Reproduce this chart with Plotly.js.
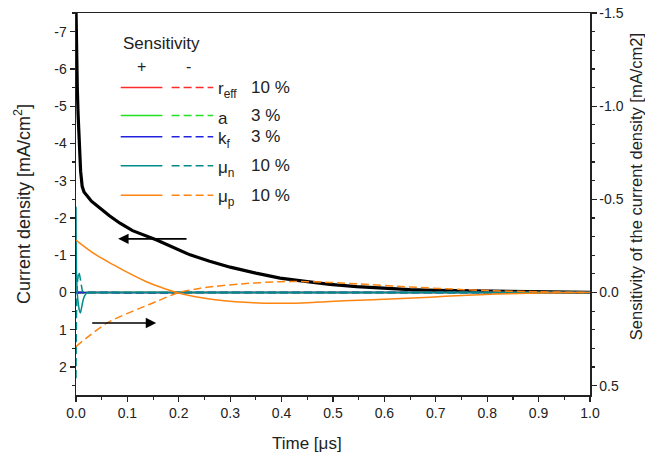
<!DOCTYPE html>
<html><head><meta charset="utf-8">
<script src="https://cdn.plot.ly/plotly-3.0.1.min.js"></script>
<style>html,body{margin:0;padding:0;background:#fff}#chart{width:645px;height:457px}</style>
</head><body><div id="chart"></div>
<script>
// ---- Current density (left axis) ----
const tJ = [0, 0.0008, 0.0025, 0.004, 0.006, 0.009, 0.012, 0.0156, 0.02, 0.03, 0.047, 0.065, 0.0856, 0.11, 0.157, 0.19, 0.222, 0.26, 0.30, 0.35, 0.397, 0.45, 0.494, 0.546, 0.59, 0.65, 0.70, 0.786, 0.85, 0.9, 1.0];
const J  = [-7.6, -6.5, -5.5, -4.8, -4.15, -3.25, -2.85, -2.7, -2.62, -2.45, -2.26, -2.06, -1.86, -1.66, -1.41, -1.21, -1.01, -0.84, -0.68, -0.52, -0.385, -0.29, -0.22, -0.16, -0.12, -0.08, -0.06, -0.04, -0.025, -0.015, -0.005];

// ---- Sensitivities (right axis) ----
const tSmall = [0, 0.005, 0.01, 0.02, 0.5, 1.0];
const reffPlus  = [0.004, 0.002, 0.001, 0, 0, 0];
const reffMinus = [-0.004, -0.002, -0.001, 0, 0, 0];
const aPlus     = [0.002, 0.001, 0, 0, 0, 0];
const aMinus    = [-0.002, -0.001, 0, 0, 0, 0];
const kfPlus    = [0.003, 0.002, 0.001, 0, 0, 0];
const kfMinus   = [-0.003, -0.002, -0.001, 0, 0, 0];

const tMunPlus  = [0, 0.0015, 0.004, 0.007, 0.0085, 0.011, 0.015, 0.02, 0.023, 0.05, 1.0];
const munPlus   = [-0.46, -0.05, 0.05, 0.10, 0.11, 0.08, 0.03, 0.004, 0, 0, 0];
const tMunMinus = [0, 0.0012, 0.003, 0.005, 0.0055, 0.008, 0.011, 0.013, 0.016, 0.05, 1.0];
const munMinus  = [0.46, 0.08, -0.06, -0.105, -0.112, -0.08, -0.03, -0.005, 0, 0, 0];

const tMupPlus  = [0, 0.008, 0.04, 0.073, 0.1, 0.137, 0.165, 0.196, 0.23, 0.267, 0.31, 0.365, 0.4, 0.45, 0.494, 0.55, 0.6, 0.689, 0.75, 0.818, 0.9, 1.0];
const mupPlus   = [-0.282, -0.264, -0.2, -0.148, -0.108, -0.058, -0.028, 0, 0.022, 0.038, 0.050, 0.057, 0.058, 0.055, 0.048, 0.042, 0.036, 0.025, 0.016, 0.008, 0.003, 0];
const tMupMinus = [0, 0.02, 0.06, 0.1, 0.125, 0.16, 0.2, 0.24, 0.267, 0.32, 0.397, 0.45, 0.494, 0.55, 0.65, 0.72, 0.805, 0.9, 1.0];
const mupMinus  = [0.29, 0.245, 0.164, 0.112, 0.084, 0.044, 0.0, -0.022, -0.032, -0.046, -0.058, -0.058, -0.054, -0.046, -0.03, -0.02, -0.01, -0.004, 0];

// ---- Tick labels ----
const xTickVals = [0, 0.1, 0.2, 0.3, 0.4, 0.5, 0.6, 0.7, 0.8, 0.9, 1.0];
const xTickText = ['0.0','0.1','0.2','0.3','0.4','0.5','0.6','0.7','0.8','0.9','1.0'];
const yTickVals = [-7, -6, -5, -4, -3, -2, -1, 0, 1, 2];
const yTickText = ['-7','-6','-5','-4','-3','-2','-1','0','1','2'];
const y2TickVals = [-1.5, -1.0, -0.5, 0.0, 0.5];
const y2TickText = ['-1.5','-1.0','-0.5','0.0','0.5'];

// ---- Titles ----
const xTitle = 'Time [μs]';
const yTitle = 'Current density [mA/cm<sup>2</sup>]';
const y2Title = 'Sensitivity of the current density [mA/cm2]';

// ---- Legend table ----
const legLabels = ['r<sub>eff</sub>', 'a', 'k<sub>f</sub>', 'μ<sub>n</sub>', 'μ<sub>p</sub>'];
const legPercent = ['10 %', '3 %', '3 %', '10 %', '10 %'];
const legColors = ['#ff2a2a', '#22e022', '#2222e0', '#008b8b', '#ff8410'];

// ---- Arrows (data coords: [tailX, headX, y]) ----
const arrowLeft  = [0.218, 0.082, -1.44];
const arrowRight = [0.0286, 0.156, 0.82];

const FONT = 'Liberation Sans, Arial, Helvetica, sans-serif';
const TXT = '#222';

function sens(x, y, color, dashed) {
  return {x: x, y: y, yaxis: 'y2', type: 'scatter', mode: 'lines', showlegend: false,
    line: {color: color, width: 1.5, dash: dashed ? '8px,4px' : 'solid', shape: 'spline', smoothing: 0.8}, hoverinfo: 'skip'};
}

const traces = [
  {x: tJ, y: J, type: 'scatter', mode: 'lines', showlegend: false,
   line: {color: '#000', width: 3.2}, hoverinfo: 'skip'},
  sens(tSmall, reffPlus, legColors[0], false),
  sens(tSmall, reffMinus, legColors[0], true),
  sens(tSmall, aPlus, legColors[1], false),
  sens(tSmall, aMinus, legColors[1], true),
  sens(tSmall, kfPlus, legColors[2], false),
  sens(tSmall, kfMinus, legColors[2], true),
  sens(tMunPlus, munPlus, legColors[3], false),
  sens(tMunMinus, munMinus, legColors[3], true),
  sens(tMupPlus, mupPlus, legColors[4], false),
  sens(tMupMinus, mupMinus, legColors[4], true)
];

// legend geometry in paper coords
const rowY = [0.805, 0.732, 0.676, 0.600, 0.523];
const shapes = [];
const annotations = [];
for (let i = 0; i < legLabels.length; i++) {
  shapes.push({type: 'line', xref: 'paper', yref: 'paper', x0: 0.087, x1: 0.168, y0: rowY[i], y1: rowY[i],
    line: {color: legColors[i], width: 1.5}});
  shapes.push({type: 'line', xref: 'paper', yref: 'paper', x0: 0.186, x1: 0.267, y0: rowY[i], y1: rowY[i],
    line: {color: legColors[i], width: 1.5, dash: '8px,4px'}});
  annotations.push({xref: 'paper', yref: 'paper', x: 0.272, y: rowY[i], xanchor: 'left', yanchor: 'middle',
    yshift: -3, text: legLabels[i], showarrow: false, font: {family: FONT, size: 17, color: TXT}});
  annotations.push({xref: 'paper', yref: 'paper', x: 0.336, y: rowY[i], xanchor: 'left', yanchor: 'middle',
    text: legPercent[i], showarrow: false, font: {family: FONT, size: 17, color: TXT}});
}
annotations.push({xref: 'paper', yref: 'paper', x: 0.087, y: 0.921, xanchor: 'left', yanchor: 'middle',
  text: 'Sensitivity', showarrow: false, font: {family: FONT, size: 17, color: TXT}});
annotations.push({xref: 'paper', yref: 'paper', x: 0.128, y: 0.859, xanchor: 'center', yanchor: 'middle',
  text: '+', showarrow: false, font: {family: FONT, size: 16, color: TXT}});
annotations.push({xref: 'paper', yref: 'paper', x: 0.219, y: 0.859, xanchor: 'center', yanchor: 'middle',
  text: '-', showarrow: false, font: {family: FONT, size: 16, color: TXT}});

// axis titles placed as annotations
annotations.push({xref: 'paper', yref: 'paper', x: 0.378, y: 0, yshift: -48, xanchor: 'left', yanchor: 'middle',
  text: xTitle, showarrow: false, font: {family: FONT, size: 17, color: TXT}});
annotations.push({xref: 'paper', yref: 'paper', x: 0, y: 0.5, xshift: -54, xanchor: 'center', yanchor: 'middle',
  textangle: -90, text: yTitle, showarrow: false, font: {family: FONT, size: 18, color: TXT}});
annotations.push({xref: 'paper', yref: 'paper', x: 1, y: 0.544, xshift: 46, xanchor: 'center', yanchor: 'middle',
  textangle: -90, text: y2Title, showarrow: false, font: {family: FONT, size: 16.5, color: TXT}});

// arrows
[arrowLeft, arrowRight].forEach(a => {
  annotations.push({xref: 'x', yref: 'y', axref: 'x', ayref: 'y', x: a[1], y: a[2], ax: a[0], ay: a[2],
    text: '', showarrow: true, arrowhead: 2, arrowsize: 1.3, arrowwidth: 1.6, arrowcolor: '#000'});
});

const axisCommon = {
  showline: true, linecolor: '#222', linewidth: 1.5, showgrid: false, zeroline: false,
  ticks: 'outside', ticklen: 5, tickwidth: 1.3, tickcolor: '#222',
  tickfont: {family: FONT, size: 14, color: TXT}
};
const minorCommon = {ticks: 'outside', ticklen: 3, tickwidth: 1.2, tickcolor: '#222', showgrid: false};

const layout = {
  width: 645, height: 457,
  margin: {l: 76, r: 55, t: 13, b: 62, pad: 0},
  paper_bgcolor: '#fff', plot_bgcolor: '#fff',
  font: {family: FONT, color: TXT},
  xaxis: Object.assign({}, axisCommon, {
    range: [0, 1], tickvals: xTickVals, ticktext: xTickText, mirror: true,
    minor: Object.assign({dtick: 0.05}, minorCommon)
  }),
  yaxis: Object.assign({}, axisCommon, {
    range: [2.75, -7.5], tickvals: yTickVals, ticktext: yTickText,
    minor: Object.assign({dtick: 0.5}, minorCommon)
  }),
  yaxis2: Object.assign({}, axisCommon, {
    overlaying: 'y', side: 'right', range: [0.55, -1.5], tickvals: y2TickVals, ticktext: y2TickText,
    minor: Object.assign({dtick: 0.1}, minorCommon)
  }),
  shapes: shapes,
  annotations: annotations
};

Plotly.newPlot('chart', traces, layout, {displayModeBar: false, staticPlot: true});
</script>
</body></html>
